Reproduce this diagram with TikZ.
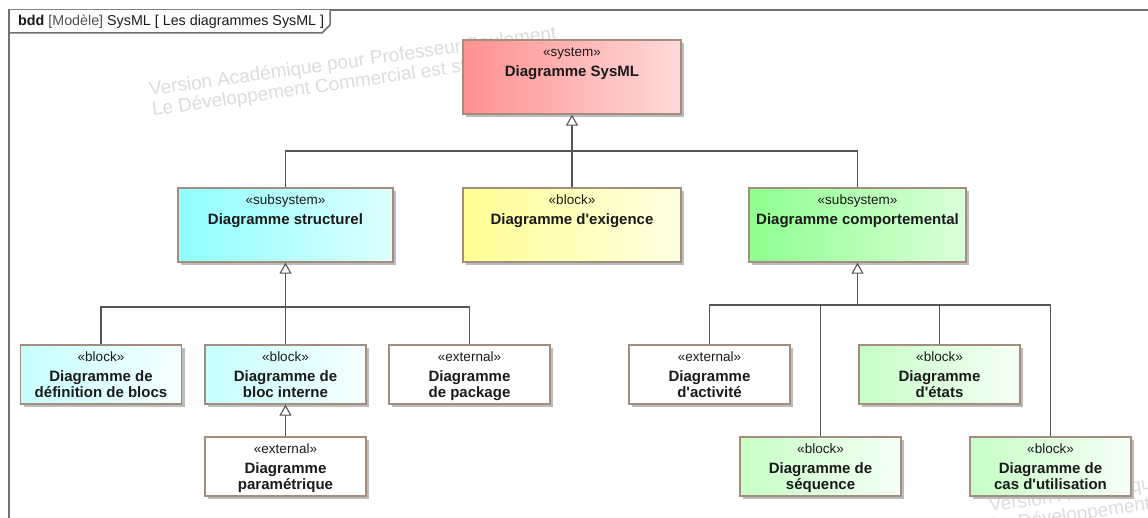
\documentclass[tikz,border=0pt]{standalone}
\usepackage{fontspec}
\setmainfont{Liberation Sans}
\usetikzlibrary{arrows.meta,shadows}

\definecolor{edge}{HTML}{A38E7E}
\definecolor{shade}{HTML}{BCBCBC}
\definecolor{wire}{HTML}{555555}
\definecolor{framegray}{HTML}{707070}
\definecolor{ink}{HTML}{1A1A1A}
\definecolor{modelgray}{HTML}{505050}
\definecolor{wmark}{HTML}{DCDCDC}
\definecolor{sysL}{HTML}{FF9090}\definecolor{sysR}{HTML}{FFDADA}
\definecolor{cyaL}{HTML}{8EFFFF}\definecolor{cyaR}{HTML}{DEFFFF}
\definecolor{yelL}{HTML}{FFFF94}\definecolor{yelR}{HTML}{FFFFE2}
\definecolor{grnL}{HTML}{8EFF8E}\definecolor{grnR}{HTML}{DCFFDC}
\definecolor{lcyL}{HTML}{C6FFFF}\definecolor{lcyR}{HTML}{F6FFFF}
\definecolor{lgrL}{HTML}{C6FFC6}\definecolor{lgrR}{HTML}{F6FFF6}

\tikzset{
  box/.style={rectangle, draw=edge, line width=1.3pt, inner sep=0pt,
    drop shadow={shadow xshift=3pt, shadow yshift=-3pt, fill=shade, opacity=1}},
  wide/.style={box, minimum width=218pt, minimum height=74pt},
  narrow/.style={box, minimum width=161pt, minimum height=59pt},
  redfill/.style={left color=sysL, right color=sysR},
  cyanfill/.style={left color=cyaL, right color=cyaR},
  yellowfill/.style={left color=yelL, right color=yelR},
  greenfill/.style={left color=grnL, right color=grnR},
  lcyanfill/.style={left color=lcyL, right color=lcyR},
  lgreenfill/.style={left color=lgrL, right color=lgrR},
  whitefill/.style={fill=white},
  ster/.style={inner sep=0pt, anchor=base, text=ink,
    font=\fontsize{13.5}{16}\selectfont},
  bname/.style={inner sep=0pt, anchor=north, align=center, text=ink,
    font=\fontsize{15}{15.7}\selectfont\bfseries},
  conn/.style={draw=wire, line width=1.2pt},
  gen/.style={conn, -{Triangle[open, fill=white, width=12pt, length=11pt, line width=1.1pt]}},
  frameline/.style={draw=framegray, line width=1.5pt},
  wm/.style={inner sep=0pt, anchor=base west, rotate=8, text=wmark,
    font=\fontsize{19}{20}\selectfont},
}

% stereotype and name placed at the top of a block
\newcommand{\blocktext}[3]{%
  \node[ster] (#1-st) at ([yshift=-17pt]#1.north) {«#2»};
  \node[bname] (#1-nm) at ([yshift=-26pt]#1.north) {#3};
}
\newcommand{\q}{\textquotesingle}

\begin{document}
\begin{tikzpicture}[x=1pt, y=-1pt]
\useasboundingbox (0,0) rectangle (1148,518);
\fill[white] (0,0) rectangle (1148,518);
\begin{scope}
\clip (0,0) rectangle (1148,518);

% watermark, repeated
\node[wm] (wmA1) at (150,96) {Version Académique pour Professeur Seulement};
\node[wm] (wmA2) at (152.8,116) {Le Développement Commercial est strictement interdit};
\node[wm] (wmB1) at (990,512) {Version Académique pour Professeur Seulement};
\node[wm] (wmB2) at (992.8,532) {Le Développement Commercial est strictement interdit};

% diagram frame and its tab
\draw[frameline] (9,540) -- (9,10) -- (1160,10);
\draw[frameline, fill=white] (9,10) -- (9,33) -- (322,33) -- (330,25) -- (330,10);
\node[inner sep=0pt, anchor=base west, text=ink, font=\fontsize{14.3}{16}\selectfont]
  (title) at (18,26) {\textbf{bdd} {\color{modelgray}[Modèle]} SysML [ Les diagrammes SysML ]};

% blocks
\node[wide, redfill] (sys) at (572,77) {};
\node[wide, cyanfill, minimum width=215pt] (str) at (285.5,225) {};
\node[wide, yellowfill] (exi) at (572,225) {};
\node[wide, greenfill, minimum width=217pt] (cmp) at (857.5,225) {};

\node[narrow, lcyanfill] (bdd) at (101,374.5) {};
\node[narrow, lcyanfill] (ibd) at (285.5,374.5) {};
\node[narrow, whitefill] (pkg) at (469.5,374.5) {};
\node[narrow, whitefill] (par) at (285.5,466.5) {};
\node[narrow, whitefill] (act) at (709.5,374.5) {};
\node[narrow, lgreenfill] (stm) at (939.5,374.5) {};
\node[narrow, lgreenfill] (seq) at (820.5,466.5) {};
\node[narrow, lgreenfill] (uc) at (1050.5,466.5) {};

\blocktext{sys}{system}{Diagramme SysML}
\blocktext{str}{subsystem}{Diagramme structurel}
\blocktext{exi}{block}{Diagramme d\q exigence}
\blocktext{cmp}{subsystem}{Diagramme comportemental}
\blocktext{bdd}{block}{Diagramme de\\définition de blocs}
\blocktext{ibd}{block}{Diagramme de\\bloc interne}
\blocktext{pkg}{external}{Diagramme\\de package}
\blocktext{par}{external}{Diagramme\\paramétrique}
\blocktext{act}{external}{Diagramme\\d\q activité}
\blocktext{stm}{block}{Diagramme\\d\q états}
\blocktext{seq}{block}{Diagramme de\\séquence}
\blocktext{uc}{block}{Diagramme de\\cas d\q utilisation}

% generalisations
\coordinate (bus0) at (572,151);
\draw[conn] (str.north) |- (bus0) -| (cmp.north);
\draw[conn] (exi.north) -- (bus0);
\draw[gen] (bus0) -- (sys.south);

\coordinate (bus1) at (285.5,307);
\draw[conn] (bdd.north) |- (bus1) -| (pkg.north);
\draw[conn] (ibd.north) -- (bus1);
\draw[gen] (bus1) -- (str.south);
\draw[gen] (par.north) -- (ibd.south);

\coordinate (bus2) at (857.5,305);
\draw[conn] (act.north) |- (bus2) -| (uc.north);
\draw[conn] (seq.north) -- (seq.north |- bus2);
\draw[conn] (stm.north) -- (stm.north |- bus2);
\draw[gen] (bus2) -- (cmp.south);
\end{scope}
\end{tikzpicture}
\end{document}
